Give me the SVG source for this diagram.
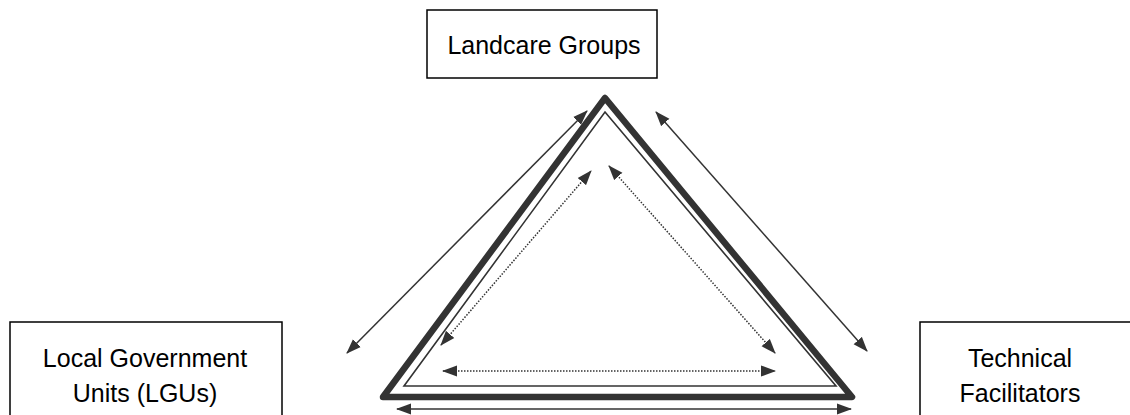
<svg xmlns="http://www.w3.org/2000/svg" width="1130" height="415" viewBox="0 0 1130 415">
  <style>
    .box { fill: #ffffff; stroke: #000000; stroke-width: 1.5; }
    .lbl { font-family: "Liberation Sans", Arial, sans-serif; font-size: 25px; fill: #000000; text-anchor: middle; }
    .thick { fill: none; stroke: #333333; stroke-width: 6.5; stroke-linejoin: round; }
    .thin { fill: none; stroke: #333333; stroke-width: 1.6; }
    .arrow { fill: none; stroke: #333333; stroke-width: 1.5; marker-start: url(#ah); marker-end: url(#ah); }
    .dot { fill: none; stroke: #333333; stroke-width: 1.5; stroke-dasharray: 1.5 1.5; marker-start: url(#ah); marker-end: url(#ah); }
  </style>
  <defs>
    <marker id="ah" markerUnits="userSpaceOnUse" markerWidth="15" markerHeight="12" refX="14" refY="6" orient="auto-start-reverse">
      <path d="M0,0.5 L15,6 L0,11.5 z" fill="#333333"/>
    </marker>
  </defs>
  <rect width="1130" height="415" fill="#ffffff"/>

  <g id="landcare-groups">
    <rect class="box" x="427" y="10" width="230" height="68"/>
    <text class="lbl" x="544" y="54">Landcare Groups</text>
  </g>
  <g id="lgus">
    <rect class="box" x="10" y="322" width="272" height="110"/>
    <text class="lbl" x="145" y="367">Local Government</text>
    <text class="lbl" x="145" y="402">Units (LGUs)</text>
  </g>
  <g id="technical-facilitators">
    <rect class="box" x="920" y="322" width="230" height="110"/>
    <text class="lbl" x="1020" y="367">Technical</text>
    <text class="lbl" x="1020" y="402">Facilitators</text>
  </g>

  <g id="triangle">
    <path class="thick" d="M605,98 L852,397 L383,397 Z"/>
    <path class="thin" d="M605,112 L836,386 L404,386 Z"/>
  </g>

  <g id="connectors">
    <line class="arrow" x1="347" y1="353" x2="587" y2="111"/>
    <line class="arrow" x1="656" y1="112" x2="867" y2="351"/>
    <line class="arrow" x1="397" y1="409" x2="851" y2="409"/>
    <line class="dot" x1="441" y1="345" x2="591" y2="171"/>
    <line class="dot" x1="609" y1="166" x2="775" y2="353"/>
    <line class="dot" x1="443" y1="371" x2="775" y2="371"/>
  </g>
</svg>
